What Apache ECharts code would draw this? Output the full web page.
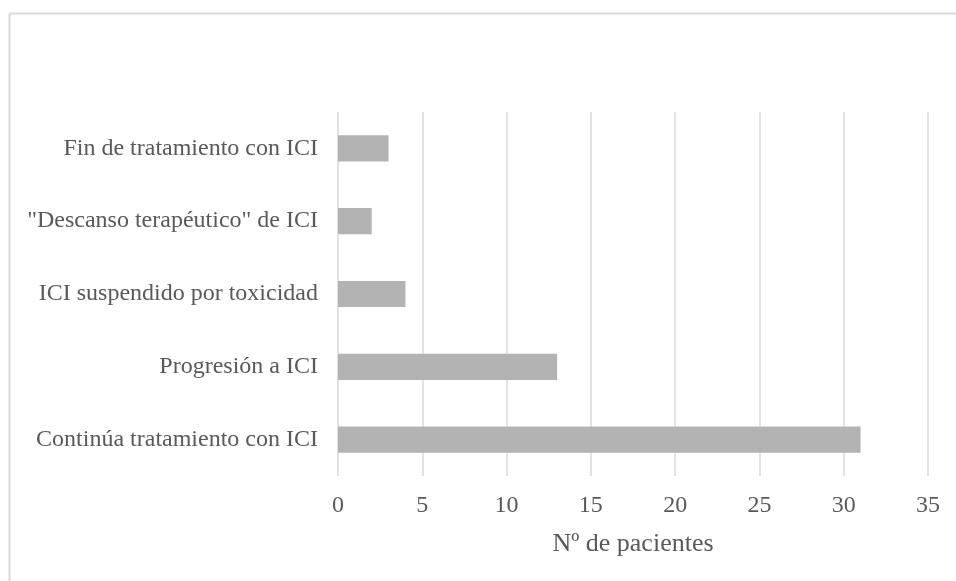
<!DOCTYPE html>
<html>
<head>
<meta charset="utf-8">
<script src="https://cdn.jsdelivr.net/npm/echarts@6/dist/echarts.min.js"></script>
<style>
  html, body { margin: 0; padding: 0; background: #ffffff; }
  #chart { width: 956px; height: 581px; }
</style>
</head>
<body>
<div id="chart"></div>
<script>
// Estado del tratamiento con ICI (de abajo hacia arriba)
const categories = [
  'Continúa tratamiento con ICI',
  'Progresión a ICI',
  'ICI suspendido por toxicidad',
  '"Descanso terapéutico" de ICI',
  'Fin de tratamiento con ICI'
];
const patientCounts = [31, 13, 4, 2, 3];
const xTicks = [0, 5, 10, 15, 20, 25, 30, 35];
const xAxisTitle = 'Nº de pacientes';

const textColor = '#595959';
const fontFamily = '"Liberation Serif", "Times New Roman", serif';

const chart = echarts.init(document.getElementById('chart'), null, { renderer: 'canvas' });

chart.setOption({
  animation: false,
  backgroundColor: '#ffffff',
  graphic: [
    // marco exterior del gráfico (solo bordes superior e izquierdo visibles)
    { type: 'line', shape: { x1: 9.5, y1: 13.5, x2: 956, y2: 13.5 }, style: { stroke: '#d9d9d9', lineWidth: 2 } },
    { type: 'line', shape: { x1: 9.5, y1: 13.5, x2: 9.5, y2: 581 }, style: { stroke: '#d9d9d9', lineWidth: 2 } }
  ],
  grid: {
    left: 338,
    right: 28,
    top: 112,
    bottom: 105,
    containLabel: false
  },
  xAxis: {
    type: 'value',
    min: xTicks[0],
    max: xTicks[xTicks.length - 1],
    interval: 5,
    name: xAxisTitle,
    nameLocation: 'middle',
    nameGap: 55,
    nameTextStyle: { color: textColor, fontFamily: fontFamily, fontSize: 26 },
    axisLine: { show: false },
    axisTick: { show: false },
    axisLabel: { color: textColor, fontFamily: fontFamily, fontSize: 24, margin: 18 },
    splitLine: { show: true, lineStyle: { color: '#d9d9d9', width: 1.5 } }
  },
  yAxis: {
    type: 'category',
    data: categories,
    axisLine: { show: false },
    axisTick: { show: false },
    axisLabel: { color: textColor, fontFamily: fontFamily, fontSize: 24, margin: 20 },
    splitLine: { show: false }
  },
  series: [{
    type: 'bar',
    data: patientCounts,
    barWidth: '36%',
    itemStyle: { color: '#b3b3b3' }
  }]
});
</script>
</body>
</html>
